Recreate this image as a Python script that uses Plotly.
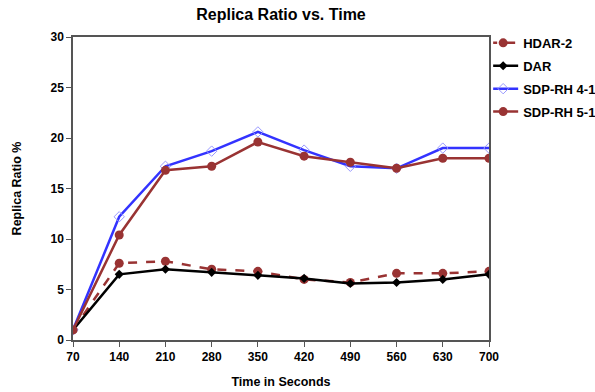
import plotly.graph_objects as go

times = [70, 140, 210, 280, 350, 420, 490, 560, 630, 700]
hdar2 = [1.0, 7.6, 7.8, 7.0, 6.8, 6.0, 5.7, 6.6, 6.6, 6.8]
dar = [1.0, 6.5, 7.0, 6.7, 6.4, 6.1, 5.6, 5.7, 6.0, 6.5]
sdp41 = [1.0, 12.2, 17.2, 18.7, 20.6, 18.8, 17.2, 17.0, 19.0, 19.0]
sdp51 = [1.0, 10.4, 16.8, 17.2, 19.6, 18.2, 17.6, 17.0, 18.0, 18.0]

brown = "#993333"
fig = go.Figure()
fig.add_trace(go.Scatter(x=times, y=hdar2, name="<b>HDAR-2</b>", mode="lines+markers", legendgroup="a",
                         line=dict(color=brown, width=2.5, dash="dash"),
                         marker=dict(symbol="circle", size=9, color=brown)))
fig.add_trace(go.Scatter(x=times, y=dar, name="<b>DAR</b>", mode="lines+markers", legendgroup="b",
                         line=dict(color="black", width=2.5),
                         marker=dict(symbol="diamond", size=7, color="black")))
fig.add_trace(go.Scatter(x=times, y=sdp41, name="<b>SDP-RH 4-1</b>", mode="lines+markers", legendgroup="c",
                         line=dict(color="#3333FF", width=2.5),
                         marker=dict(symbol="diamond-open", size=8, color="#9999FF",
                                     line=dict(width=1))))
fig.add_trace(go.Scatter(x=times, y=sdp51, name="<b>SDP-RH 5-1</b>", mode="lines+markers", legendgroup="d",
                         line=dict(color=brown, width=2.5),
                         marker=dict(symbol="circle", size=9, color=brown)))

font = "Liberation Sans, Arial, sans-serif"
fig.update_layout(
    width=595, height=392,
    margin=dict(l=73, r=106, t=37, b=52, autoexpand=False),
    paper_bgcolor="white", plot_bgcolor="white",
    title=dict(text="<b>Replica Ratio vs. Time</b>", x=(73 + 489) / 2 / 595, xanchor="center",
               y=1 - 14 / 392, yanchor="middle", font=dict(family=font, size=16, color="black")),
    font=dict(family=font, color="black"),
    legend=dict(x=1.01, xanchor="left", y=1.03, yanchor="top",
                font=dict(family=font, size=13, color="black"),
                tracegroupgap=3, itemwidth=30, indentation=-10),
    showlegend=True,
)
fig.update_xaxes(
    range=[70, 700], tickvals=times, ticktext=[f"<b>{t}</b>" for t in times],
    showline=True, linecolor="#555555", linewidth=1.5, mirror=True,
    ticks="outside", ticklen=5, tickcolor="#555555", showgrid=False, zeroline=False,
    tickfont=dict(family=font, size=12, color="black"),
    title=dict(text="<b>Time in Seconds</b>", font=dict(family=font, size=12.5, color="black"), standoff=14),
)
fig.update_yaxes(
    range=[0, 30], tickvals=[0, 5, 10, 15, 20, 25, 30],
    ticktext=[f"<b>{v}</b>" for v in [0, 5, 10, 15, 20, 25, 30]],
    showline=True, linecolor="#555555", linewidth=1.5, mirror=True,
    ticks="outside", ticklen=5, tickcolor="#555555", showgrid=False, zeroline=False,
    tickfont=dict(family=font, size=12, color="black"),
    title=dict(text="<b>Replica Ratio %</b>", font=dict(family=font, size=12.5, color="black"), standoff=26),
)
fig.write_html("out.html")
